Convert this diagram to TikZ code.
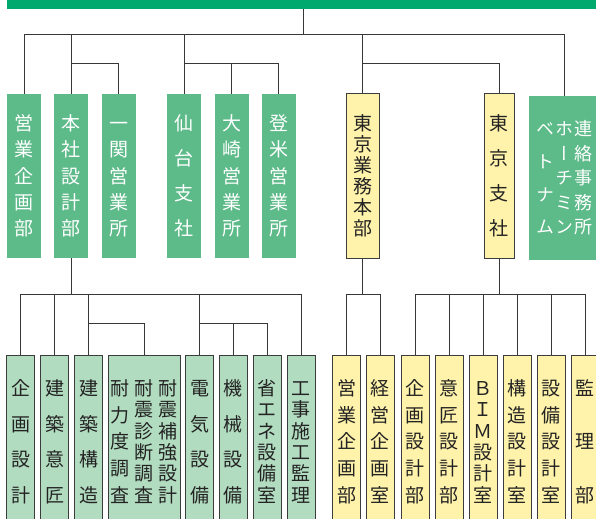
\documentclass[tikz,border=0pt]{standalone}
\usepackage{fontspec}
\newfontfamily\jp{Noto Sans CJK JP}
\newfontfamily\jpv[RawFeature=+vert]{Noto Sans CJK JP}
\definecolor{barGreen}{RGB}{0,170,110}
\definecolor{topGreen}{RGB}{93,186,137}
\definecolor{lightGreen}{RGB}{178,220,192}
\definecolor{yelFill}{RGB}{255,242,170}
\definecolor{bord}{RGB}{60,60,60}
\definecolor{lineCol}{RGB}{55,55,55}
\definecolor{txtGray}{RGB}{35,35,35}
\newcommand\jpA{\jp\fontsize{19bp}{19bp}\selectfont}
\newcommand\jpB{\jpv\fontsize{18bp}{18bp}\selectfont}
\makeatletter
\newcommand\vcol[2]{\vbox to #1{\offinterlineskip\let\vcsep\relax\@tfor\vc:=#2\do{\vcsep\hbox to 1em{\hss\vrule height .88em depth .12em width 0pt\vc\hss}\let\vcsep\vfill}\kern0pt}}
\makeatother
\tikzset{
  topbox/.style={fill=topGreen, text=white, minimum width=34bp, minimum height=164bp, inner sep=0pt, font=\jpA},
  yelTop/.style={fill=yelFill, draw=bord, line width=1bp, text=txtGray, minimum height=164bp, inner sep=0pt, font=\jpA},
  lgbox/.style={fill=lightGreen, draw=bord, line width=1bp, text=txtGray, minimum width=28bp, minimum height=171.3bp, inner sep=0pt, font=\jpA},
  ylbox/.style={fill=yelFill, draw=bord, line width=1bp, text=txtGray, minimum width=28bp, minimum height=171.3bp, inner sep=0pt, font=\jpA},
  conn/.style={draw=lineCol, line width=1bp},
}
\begin{document}
\begin{tikzpicture}[x=1bp,y=-1bp]
\useasboundingbox (0,0) rectangle (596,519);
\clip (0,0) rectangle (596,519);
% top bar
\node[fill=barGreen, minimum width=589bp, minimum height=8.7bp, inner sep=0pt] (bar) at (301.5,4.35) {};
% top row
\node[topbox] (eig) at (24,176) {\vcol{124bp}{営業企画部}};
\node[topbox] (hon) at (71,176) {\vcol{124bp}{本社設計部}};
\node[topbox] (ich) at (118.5,176) {\vcol{124bp}{一関営業所}};
\node[topbox] (sen) at (184,176) {\vcol{124bp}{仙台支社}};
\node[topbox] (osa) at (231.5,176) {\vcol{124bp}{大崎営業所}};
\node[topbox] (tom) at (278.5,176) {\vcol{124bp}{登米営業所}};
\node[yelTop, minimum width=33.3bp] (tgh) at (362.7,176) {\vcol{124bp}{東京業務本部}};
\node[yelTop, minimum width=30bp] (tsh) at (499,176) {\vcol{124bp}{東京支社}};
\node[fill=topGreen, text=white, minimum width=71bp, minimum height=164bp, inner sep=0pt, font=\jpB] (ren) at (564.5,178)
  {\vcol{116.3bp}{ベトナム}\kern1bp\vcol{116.3bp}{ホーチミン}\kern1bp\vcol{116.3bp}{連絡事務所}};
% second row (green)
\node[lgbox, minimum width=27.7bp] (kik) at (20.85,441.6) {\vcol{125.7bp}{企画設計}};
\node[lgbox] (ken) at (54.7,441.6) {\vcol{125.7bp}{建築意匠}};
\node[lgbox] (kou) at (88.7,441.6) {\vcol{125.7bp}{建築構造}};
\node[lgbox, minimum width=72bp] (tai) at (144,441.6) {\vcol{125.7bp}{耐力度調査}\kern4.7bp\vcol{125.7bp}{耐震診断調査}\kern4.7bp\vcol{125.7bp}{耐震補強設計}};
\node[lgbox] (den) at (199.7,441.6) {\vcol{125.7bp}{電気設備}};
\node[lgbox] (kis) at (233.3,441.6) {\vcol{125.7bp}{機械設備}};
\node[lgbox] (sho) at (267.3,441.6) {\vcol{125.7bp}{省エネ設備室}};
\node[lgbox] (koj) at (301.3,441.6) {\vcol{125.7bp}{工事施工監理}};
% second row (yellow)
\node[ylbox] (yeig) at (346.5,441.6) {\vcol{125.7bp}{営業企画部}};
\node[ylbox] (keie) at (380.3,441.6) {\vcol{125.7bp}{経営企画室}};
\node[ylbox] (kiks) at (415.2,441.6) {\vcol{125.7bp}{企画設計部}};
\node[ylbox] (ish) at (449.3,441.6) {\vcol{125.7bp}{意匠設計部}};
\node[ylbox] (bim) at (483.3,441.6) {\vcol{125.7bp}{ＢＩＭ設計室}};
\node[ylbox] (kozo) at (517.3,441.6) {\vcol{125.7bp}{構造設計室}};
\node[ylbox] (setu) at (551.3,441.6) {\vcol{125.7bp}{設備設計室}};
\node[ylbox] (kanri) at (585.3,441.6) {\vcol{125.7bp}{監理部}};
% junction levels
\coordinate (t0) at (303,35);
\coordinate (t1) at (0,63.3);
\coordinate (t2) at (0,294);
\coordinate (t3) at (0,323.3);
% top connectors
\draw[conn] (bar.south -| t0) -- (t0);
\draw[conn] (eig.north) -- (eig.north |- t0) -- (ren.north |- t0) -- (ren.north);
\draw[conn] (hon.north |- t0) -- (hon.north);
\draw[conn] (sen.north |- t0) -- (sen.north);
\draw[conn] (tgh.north |- t0) -- (tgh.north);
\draw[conn] (hon.north |- t1) -| (ich.north);
\draw[conn] (sen.north |- t1) -| (tom.north);
\draw[conn] (osa.north |- t1) -- (osa.north);
\draw[conn] (tgh.north |- t1) -| (tsh.north);
% lower connectors: 本社設計部
\draw[conn] (hon.south) -- (hon.south |- t2);
\draw[conn] (kik.north) -- (kik.north |- t2) -- (koj.north |- t2) -- (koj.north);
\draw[conn] (ken.north |- t2) -- (ken.north);
\draw[conn] (kou.north |- t2) -- (kou.north);
\draw[conn] (den.north |- t2) -- (den.north);
\draw[conn] (kou.north |- t3) -| (tai.north);
\draw[conn] (den.north |- t3) -| (sho.north);
\draw[conn] (kis.north |- t3) -- (kis.north);
% 東京業務本部
\draw[conn] (tgh.south) -- (tgh.south |- t2);
\draw[conn] (yeig.north) -- (yeig.north |- t2) -- (keie.north |- t2) -- (keie.north);
% 東京支社
\draw[conn] (tsh.south) -- (tsh.south |- t2);
\draw[conn] (kiks.north) -- (kiks.north |- t2) -- (kanri.north |- t2) -- (kanri.north);
\draw[conn] (ish.north |- t2) -- (ish.north);
\draw[conn] (bim.north |- t2) -- (bim.north);
\draw[conn] (kozo.north |- t2) -- (kozo.north);
\draw[conn] (setu.north |- t2) -- (setu.north);
\end{tikzpicture}
\end{document}
